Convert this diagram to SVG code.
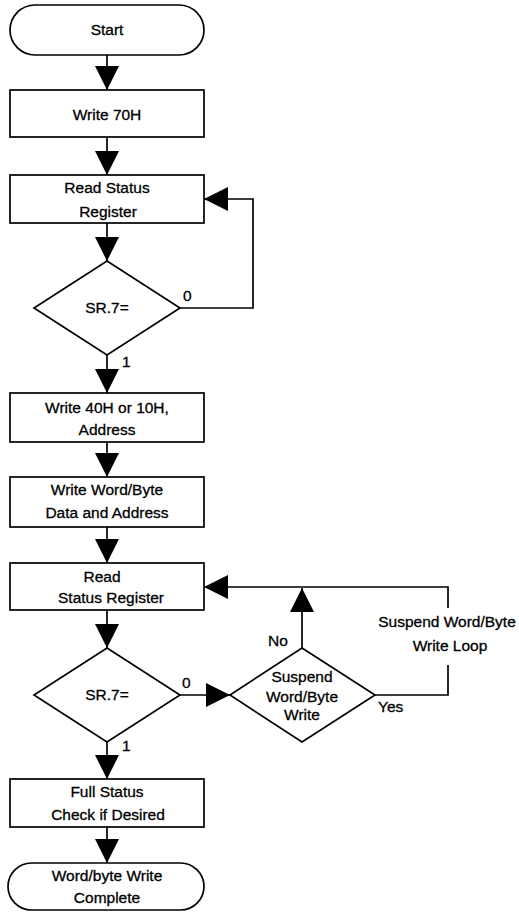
<svg xmlns="http://www.w3.org/2000/svg" width="519" height="912" viewBox="0 0 519 912">
<defs>
<marker id="ah" viewBox="0 0 24 24" refX="24" refY="12" markerWidth="24" markerHeight="24" markerUnits="userSpaceOnUse" orient="auto">
<path d="M0,0 L24,12 L0,24 Z" fill="#000"/>
</marker>
<style>
.s{fill:#fff;stroke:#000;stroke-width:1.7}
.c{fill:none;stroke:#000;stroke-width:1.7}
.a{marker-end:url(#ah)}
text{font-family:"Liberation Sans",Arial,sans-serif;font-size:15.5px;fill:#000;stroke:#000;stroke-width:0.3;text-anchor:middle}
.l{text-anchor:start}
</style>
</defs>
<rect width="519" height="912" fill="#fff"/>
<g id="connectors">
<path class="c a" d="M107,55 V90"/>
<path class="c a" d="M107,137 V175"/>
<path class="c a" d="M107,223 V261"/>
<path class="c a" d="M180,308 H253 V199 H204"/>
<path class="c a" d="M107,355 V393"/>
<path class="c a" d="M107,442 V477"/>
<path class="c a" d="M107,527 V563"/>
<path class="c a" d="M107,610 V648"/>
<path class="c a" d="M180,695 H230"/>
<path class="c a" d="M302,648 V588"/>
<path class="c" d="M375,695 H448 V665"/>
<path class="c a" d="M448,608 V587 H204"/>
<path class="c a" d="M107,742 V779"/>
<path class="c a" d="M107,827 V863"/>
</g>
<g id="start"><rect class="s" x="10" y="5" width="194" height="50" rx="25"/><text x="107" y="35">Start</text></g>
<g id="write70"><rect class="s" x="10" y="90" width="194" height="47"/><text x="107" y="120">Write 70H</text></g>
<g id="readsr1"><rect class="s" x="10" y="175" width="194" height="48"/><text x="107" y="193">Read Status</text><text x="108" y="217">Register</text></g>
<g id="sr7a"><polygon class="s" points="107,261 180,308 107,355 34,308"/><text x="107" y="313">SR.7=</text><text class="l" x="183" y="301">0</text><text class="l" x="122" y="367">1</text></g>
<g id="write40"><rect class="s" x="10" y="393" width="194" height="49"/><text x="107" y="413">Write 40H or 10H,</text><text x="107" y="435">Address</text></g>
<g id="writedata"><rect class="s" x="10" y="477" width="194" height="50"/><text x="107" y="495">Write Word/Byte</text><text x="107" y="518">Data and Address</text></g>
<g id="readsr2"><rect class="s" x="10" y="563" width="194" height="47"/><text x="102" y="582">Read</text><text x="111" y="603">Status Register</text></g>
<g id="sr7b"><polygon class="s" points="107,648 180,695 107,742 34,695"/><text x="107" y="700">SR.7=</text><text class="l" x="182" y="688">0</text><text class="l" x="122" y="751">1</text></g>
<g id="suspend"><polygon class="s" points="302,648 375,695 302,742 230,695"/><text x="302" y="682">Suspend</text><text x="302" y="702">Word/Byte</text><text x="302" y="720">Write</text><text class="l" x="268" y="646">No</text><text class="l" x="378" y="712">Yes</text></g>
<g id="loop-label"><text x="447" y="627">Suspend Word/Byte</text><text x="450" y="651">Write Loop</text></g>
<g id="fullstatus"><rect class="s" x="10" y="779" width="194" height="48"/><text x="107" y="797">Full Status</text><text x="108" y="820">Check if Desired</text></g>
<g id="end"><rect class="s" x="8" y="863" width="196" height="47" rx="23.5"/><text x="107" y="881">Word/byte Write</text><text x="107" y="903">Complete</text></g>
</svg>
